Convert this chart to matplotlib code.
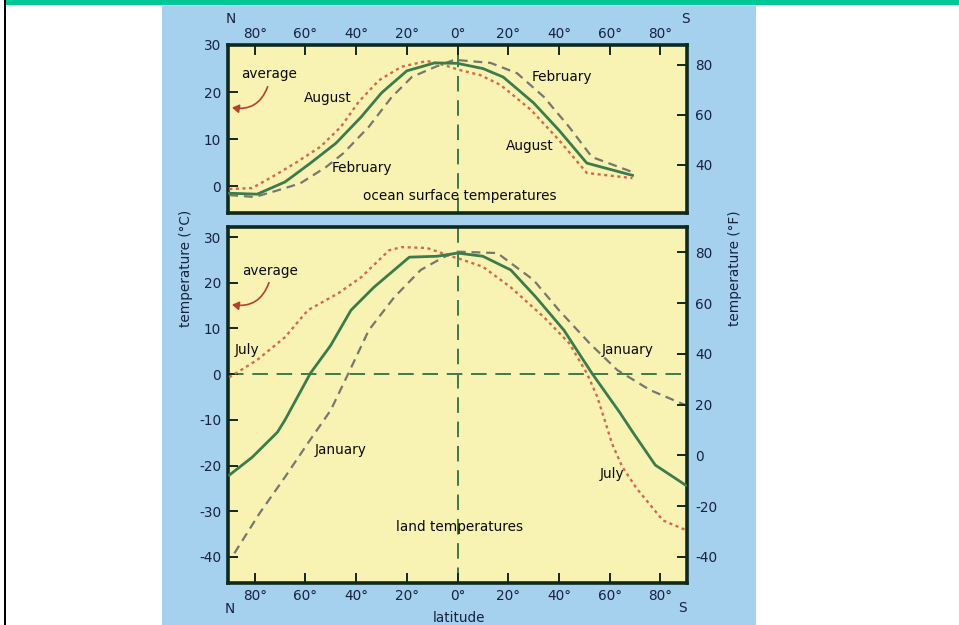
import matplotlib
matplotlib.use("Agg")
import matplotlib.pyplot as plt
from matplotlib.patches import Rectangle, FancyArrowPatch

# ---------------- data (latitude: negative = N, positive = S) ----------------
ocean_avg_lat = [-90, -79, -68, -58, -48, -38, -30, -20, -9, 0, 10, 18, 30, 40, 51, 69]
ocean_avg_t   = [-1.5, -1.7, 0.9, 4.9, 9.1, 14.7, 19.8, 24.5, 26.2, 26.1, 25.0, 23.2, 17.7, 11.9, 4.9, 2.3]

ocean_aug_lat = [-90, -81, -73, -64, -54, -46, -39, -31, -22, -12, -5, 0, 9, 17, 29, 40, 51, 69]
ocean_aug_t   = [-0.6, -0.4, 2.0, 4.9, 8.4, 12.6, 17.9, 22.5, 25.4, 26.6, 25.7, 24.8, 23.6, 21.5, 16.2, 9.8, 2.8, 1.7]

ocean_feb_lat = [-90, -80, -71, -62, -52, -45, -35, -26, -18, -9, -1.5, 0, 13, 23.5, 34, 44, 53, 69]
ocean_feb_t   = [-1.9, -2.3, -0.9, 0.6, 4.0, 7.0, 12.6, 18.9, 23.2, 25.3, 26.8, 26.8, 26.2, 24.0, 19.0, 12.6, 6.2, 3.0]

land_avg_lat = [-90, -81, -71, -68, -58, -50, -42, -33, -19, -8, 0, 10, 21, 31, 42, 53, 64, 69, 78, 90]
land_avg_t   = [-22.1, -18.2, -12.7, -10.0, 0.2, 6.3, 14.0, 19.0, 25.6, 25.8, 26.5, 25.8, 22.8, 16.8, 9.6, 0.2, -8.4, -12.6, -19.9, -24.3]

land_jul_lat = [-90, -79, -68, -59, -47, -38, -27, -22, -12, -1.5, 0, 10, 21, 34, 44, 51, 55, 58, 61, 65, 70.5, 81, 90]
land_jul_t   = [-0.7, 3.1, 8.1, 14.0, 17.7, 21.2, 27.1, 27.8, 27.6, 25.6, 25.4, 23.5, 19.0, 12.5, 6.8, 0.2, -4.8, -10.0, -15.3, -20.3, -24.9, -32.0, -34.1]

land_jan_lat = [-88, -78, -68, -59, -50, -43, -35, -25, -14.5, -5.5, 0, 15.7, 30, 40, 52, 63, 76, 90]
land_jan_t   = [-39.2, -30.4, -22.5, -15.1, -7.9, 0.2, 9.6, 16.8, 22.8, 25.6, 26.8, 26.5, 20.6, 14.0, 6.8, 0.9, -3.5, -6.8]

lat_ticks = [-80, -60, -40, -20, 0, 20, 40, 60, 80]
lat_labels = ["80°", "60°", "40°", "20°", "0°", "20°", "40°", "60°", "80°"]
ocean_c_ticks = [0, 10, 20, 30]
ocean_f_ticks = [40, 60, 80]
land_c_ticks = [-40, -30, -20, -10, 0, 10, 20, 30]
land_f_ticks = [-40, -20, 0, 20, 40, 60, 80]

# ---------------- style ----------------
YELLOW = "#f8f3b3"
BLUE = "#a5d0ee"
SPINE = "#0e2a1e"
GREEN = "#3b7b4c"
RED = "#d06a4c"
GRAY = "#787670"
TXT = "#0a0a0a"
TICKTXT = "#16233f"
FS = 9.8

plt.rcParams["font.family"] = ["DejaVu Sans"]
plt.rcParams["axes.unicode_minus"] = False

fig = plt.figure(figsize=(9.59, 6.25), dpi=100)
fig.patch.set_facecolor("white")

W, H = 959.0, 625.0
def fx(px): return px / W
def fy(py): return 1 - py / H

# background decorations
fig.patches.append(Rectangle((fx(162), 0), fx(756) - fx(162), fy(6), transform=fig.transFigure,
                             facecolor=BLUE, edgecolor="none", zorder=-10))
fig.patches.append(Rectangle((fx(6), fy(5)), 1 - fx(6), 5 / H, transform=fig.transFigure,
                             facecolor="#00c896", edgecolor="none", zorder=-10))
fig.patches.append(Rectangle((fx(4), 0), 2 / W, 1, transform=fig.transFigure,
                             facecolor="black", edgecolor="none", zorder=-10))

ax1 = fig.add_axes([fx(228), fy(213), (687 - 228) / W, (213 - 45) / H])
ax2 = fig.add_axes([fx(228), fy(583), (687 - 228) / W, (583 - 227) / H])

def style(ax):
    ax.set_facecolor(YELLOW)
    for s in ax.spines.values():
        s.set_color(SPINE)
        s.set_linewidth(2.6)
    ax.set_xlim(-90.5, 90.5)
    ax.tick_params(direction="in", length=7, width=1.4, color=SPINE,
                   labelsize=FS, labelcolor=TICKTXT)

dash_line = dict(color=GREEN, lw=1.4, dashes=(8, 4.5))
red_dots = dict(color=RED, lw=1.7, dashes=(1.3, 1.5))
gray_dash = dict(color=GRAY, lw=1.6, dashes=(4, 2.6))

# ---------- ocean panel ----------
style(ax1)
ax1.set_ylim(-5.7, 30)
ax1.axvline(0, **dash_line, zorder=1)
ax1.plot(ocean_aug_lat, ocean_aug_t, **red_dots, zorder=3)
ax1.plot(ocean_feb_lat, ocean_feb_t, **gray_dash, zorder=3)
ax1.plot(ocean_avg_lat, ocean_avg_t, color=GREEN, lw=2.0, zorder=4)
ax1.set_xticks(lat_ticks)
ax1.set_xticklabels(lat_labels)
ax1.xaxis.tick_top()
ax1.tick_params(axis="x", pad=3)
ax1.set_yticks(ocean_c_ticks)
ax1.tick_params(axis="y", pad=5)
ax1f = ax1.twinx()
ax1f.set_ylim(20.8, 88)
ax1f.set_yticks(ocean_f_ticks)
ax1f.tick_params(direction="in", length=7, width=1.4, color=SPINE,
                 labelsize=FS, labelcolor=TICKTXT, pad=6)
for s in ax1f.spines.values():
    s.set_visible(False)

ax1.text(-74.5, 23.8, "average", fontsize=FS, color=TXT, ha="center", va="center")
ax1.add_patch(FancyArrowPatch((-74.5, 21.7), (-90, 16.8), connectionstyle="arc3,rad=-0.45",
                              arrowstyle="-|>,head_length=4,head_width=2.5", color="#b5402e",
                              lw=1.2, zorder=5))
ax1.text(-51, 18.7, "August", fontsize=FS, color=TXT, ha="center", va="center")
ax1.text(41, 23.2, "February", fontsize=FS, color=TXT, ha="center", va="center")
ax1.text(-37.6, 3.8, "February", fontsize=FS, color=TXT, ha="center", va="center")
ax1.text(28.6, 8.5, "August", fontsize=FS, color=TXT, ha="center", va="center")
ax1.text(1, -2.1, "ocean surface temperatures", fontsize=FS, color=TXT, ha="center", va="center")

# ---------- land panel ----------
style(ax2)
ax2.set_ylim(-45.7, 32.2)
ax2.axvline(0, **dash_line, zorder=1)
ax2.axhline(0, **dash_line, zorder=1)
ax2.plot(land_jul_lat, land_jul_t, **red_dots, zorder=3)
ax2.plot(land_jan_lat, land_jan_t, **gray_dash, zorder=3)
ax2.plot(land_avg_lat, land_avg_t, color=GREEN, lw=2.0, zorder=4)
ax2.set_xticks(lat_ticks)
ax2.set_xticklabels(lat_labels)
ax2.tick_params(axis="x", pad=4)
ax2.set_yticks(land_c_ticks)
ax2.tick_params(axis="y", pad=5)
ax2f = ax2.twinx()
ax2f.set_ylim(-45.7 * 1.8 + 32, 32.2 * 1.8 + 32)
ax2f.set_yticks(land_f_ticks)
ax2f.tick_params(direction="in", length=7, width=1.4, color=SPINE,
                 labelsize=FS, labelcolor=TICKTXT, pad=6)
for s in ax2f.spines.values():
    s.set_visible(False)

ax2.text(-74, 22.5, "average", fontsize=FS, color=TXT, ha="center", va="center")
ax2.add_patch(FancyArrowPatch((-74, 20.6), (-90, 15.3), connectionstyle="arc3,rad=-0.45",
                              arrowstyle="-|>,head_length=4,head_width=2.5", color="#b5402e",
                              lw=1.2, zorder=5))
ax2.text(-83, 5.3, "July", fontsize=FS, color=TXT, ha="center", va="center")
ax2.text(-46, -16.6, "January", fontsize=FS, color=TXT, ha="center", va="center")
ax2.text(67, 5.3, "January", fontsize=FS, color=TXT, ha="center", va="center")
ax2.text(61, -21.9, "July", fontsize=FS, color=TXT, ha="center", va="center")
ax2.text(1, -33.5, "land temperatures", fontsize=FS, color=TXT, ha="center", va="center")

# ---------- figure-level labels ----------
fig.text(fx(231), fy(19), "N", fontsize=FS, color=TICKTXT, ha="center", va="center")
fig.text(fx(685), fy(19), "S", fontsize=FS, color=TICKTXT, ha="center", va="center")
fig.text(fx(230), fy(609), "N", fontsize=FS, color=TICKTXT, ha="center", va="center")
fig.text(fx(682), fy(608), "S", fontsize=FS, color=TICKTXT, ha="center", va="center")
fig.text(fx(459), fy(618), "latitude", fontsize=FS, color=TICKTXT, ha="center", va="center")
fig.text(fx(186), fy(268), "temperature (°C)", fontsize=FS, color=TICKTXT, ha="center",
         va="center", rotation=90)
fig.text(fx(735), fy(268), "temperature (°F)", fontsize=FS, color=TICKTXT, ha="center",
         va="center", rotation=90)

fig.savefig("out.png", dpi=100, facecolor=fig.get_facecolor())
